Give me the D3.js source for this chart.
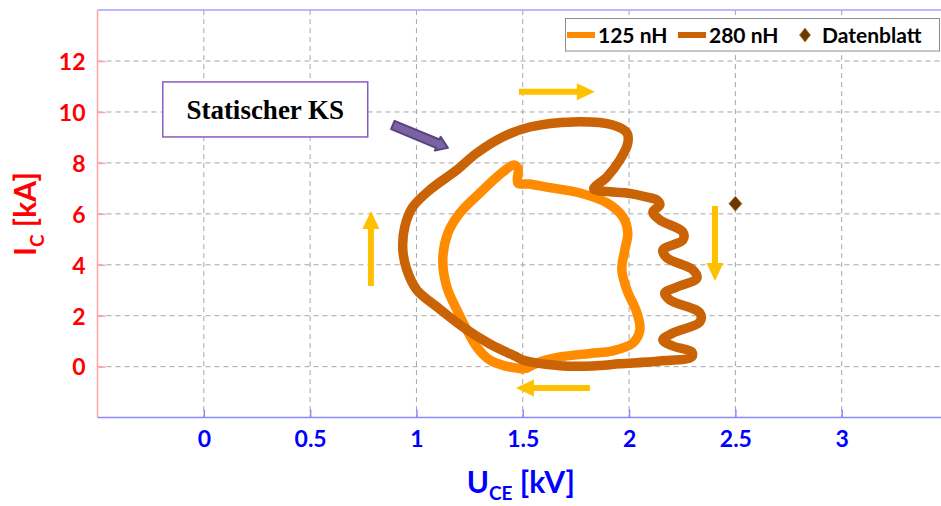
<!DOCTYPE html>
<html>
<head>
<meta charset="utf-8">
<script src="https://cdn.jsdelivr.net/npm/d3@7"></script>
<style>
  html, body { margin: 0; padding: 0; background: #fff; }
  svg { display: block; }
</style>
</head>
<body>
<svg id="chart" width="941" height="506"></svg>
<script>
// Axis ticks
const U_TICKS = [0, 0.5, 1, 1.5, 2, 2.5, 3];
const I_TICKS = [0, 2, 4, 6, 8, 10, 12];

// Series names
const SERIES = ["125 nH", "280 nH"];
const DATASHEET_LABEL = "Datenblatt";

// Short-circuit trajectory, 125 nH stray inductance: [U_CE in kV, I_C in kA]
const L125 = [
  [1.500, -0.09], [1.416, 0.03], [1.345, 0.26], [1.284, 0.77], [1.237, 1.44],
  [1.190, 2.23], [1.143, 3.13], [1.124, 4.19], [1.148, 5.25], [1.204, 6.03],
  [1.298, 6.82], [1.406, 7.64], [1.458, 7.92], [1.478, 7.78], [1.477, 7.21],
  [1.530, 7.17], [1.613, 7.05], [1.769, 6.82], [1.896, 6.43], [1.971, 5.88],
  [1.994, 5.25], [1.980, 4.58], [1.966, 3.80], [1.990, 3.01], [2.037, 2.11],
  [2.051, 1.44], [2.018, 0.93], [1.924, 0.62], [1.816, 0.52], [1.675, 0.38],
  [1.580, 0.18], [1.520, -0.06]
];

// Short-circuit trajectory, 280 nH stray inductance: [U_CE in kV, I_C in kA]
const L280 = [
  [1.830, 0.03], [1.675, 0.04], [1.500, 0.26], [1.472, 0.38], [1.345, 0.89],
  [1.218, 1.56], [1.096, 2.35], [1.002, 3.01], [0.955, 3.80], [0.936, 4.58],
  [0.945, 5.49], [0.983, 6.27], [1.063, 6.94], [1.190, 7.72], [1.284, 8.39],
  [1.406, 9.02], [1.533, 9.41], [1.736, 9.61], [1.924, 9.49], [1.990, 9.18],
  [1.994, 8.78], [1.957, 8.12], [1.896, 7.45], [1.834, 6.98], [1.924, 6.86],
  [1.990, 6.82], [2.084, 6.66], [2.131, 6.54], [2.145, 6.35], [2.112, 6.07],
  [2.145, 5.76], [2.253, 5.29], [2.253, 4.97], [2.159, 4.58], [2.178, 4.27],
  [2.300, 3.80], [2.319, 3.48], [2.225, 3.13], [2.168, 2.89], [2.192, 2.62],
  [2.333, 2.11], [2.333, 1.76], [2.206, 1.32], [2.159, 1.05], [2.206, 0.81],
  [2.295, 0.58], [2.295, 0.38], [2.145, 0.22], [1.957, 0.11]
];

// Datasheet short-circuit point
const DATASHEET = [[2.5, 6.4]];

const COLORS = { l125: "#FF8C00", l280: "#C96305", sheet: "#6B3800", flow: "#FFC000" };

const svg = d3.select("#chart");
svg.append("rect").attr("width", 941).attr("height", 506).attr("fill", "#fff");

const x = d3.scaleLinear().domain([-0.5, 3.5]).range([97.5, 948]);
const y = d3.scaleLinear().domain([-2, 14]).range([417.6, 10.1]);

const plotL = x(-0.5), plotR = x(3.5), plotT = y(14), plotB = y(-2);

// Dashed grid
const grid = svg.append("g");
grid.selectAll("line.h").data(I_TICKS).join("line")
  .attr("x1", plotL).attr("x2", plotR)
  .attr("y1", d => y(d)).attr("y2", d => y(d))
  .attr("stroke", "#a6a6a6").attr("stroke-width", 1).attr("stroke-dasharray", "5,4");
grid.selectAll("line.v").data(U_TICKS).join("line")
  .attr("y1", plotT).attr("y2", plotB)
  .attr("x1", d => x(d)).attr("x2", d => x(d))
  .attr("stroke", "#a6a6a6").attr("stroke-width", 1).attr("stroke-dasharray", "5,4");

// Frame lines
svg.append("line").attr("x1", plotL).attr("x2", plotR).attr("y1", plotT).attr("y2", plotT)
  .attr("stroke", "#a3a3ff").attr("stroke-width", 1.5);
svg.append("line").attr("x1", plotL).attr("x2", plotR).attr("y1", plotB).attr("y2", plotB)
  .attr("stroke", "#8a8aff").attr("stroke-width", 1.5);
svg.append("line").attr("x1", plotL).attr("x2", plotL).attr("y1", plotT).attr("y2", plotB)
  .attr("stroke", "#ffa3a3").attr("stroke-width", 1.5);

// Y axis (red)
const yAxis = d3.axisLeft(y).tickValues(I_TICKS).tickSize(-8).tickPadding(12);
const gy = svg.append("g").attr("transform", `translate(${plotL},0)`).call(yAxis);
gy.select(".domain").remove();
gy.selectAll(".tick line").attr("stroke", "#ffa3a3").attr("stroke-width", 1.5);
gy.selectAll(".tick text")
  .attr("fill", "#ff0000").attr("font-family", "Lato, 'Open Sans', sans-serif")
  .attr("font-weight", "bold").attr("font-size", 23).attr("dy", "0.36em");

// X axis (blue)
const xAxis = d3.axisBottom(x).tickValues(U_TICKS).tickSize(-8).tickPadding(13)
  .tickFormat(d => String(d));
const gx = svg.append("g").attr("transform", `translate(0,${plotB})`).call(xAxis);
gx.select(".domain").remove();
gx.selectAll(".tick line").attr("stroke", "#8a8aff").attr("stroke-width", 1.5);
gx.selectAll(".tick text")
  .attr("fill", "#0000ff").attr("font-family", "Lato, 'Open Sans', sans-serif")
  .attr("font-weight", "bold").attr("font-size", 23).attr("dy", "0.71em");

// Axis titles
const xt = svg.append("text").attr("x", (plotL + plotR) / 2 - 2).attr("y", 493)
  .attr("text-anchor", "middle").attr("fill", "#0000ff")
  .attr("font-family", "Lato, 'Open Sans', sans-serif").attr("font-size", 30).attr("font-weight", "bold");
xt.append("tspan").text("U");
xt.append("tspan").attr("font-size", 19).attr("dy", 7).text("CE");
xt.append("tspan").attr("dy", -7).text(" [kV]");

const yt = svg.append("text").attr("transform", "translate(36,214) rotate(-90)")
  .attr("text-anchor", "middle").attr("fill", "#ff0000")
  .attr("font-family", "Lato, 'Open Sans', sans-serif").attr("font-size", 30).attr("font-weight", "bold");
yt.append("tspan").text("I");
yt.append("tspan").attr("font-size", 19).attr("dy", 8).text("C");
yt.append("tspan").attr("dy", -8).text(" [kA]");

// Trajectories
const line = d3.line().x(d => x(d[0])).y(d => y(d[1])).curve(d3.curveCatmullRom.alpha(0.5));
const lineClosed = d3.line().x(d => x(d[0])).y(d => y(d[1])).curve(d3.curveCatmullRomClosed.alpha(0.5));

svg.append("path").datum(L125).attr("d", line)
  .attr("fill", "none").attr("stroke", COLORS.l125).attr("stroke-width", 9.5)
  .attr("stroke-linejoin", "round").attr("stroke-linecap", "round");
svg.append("path").datum(L280).attr("d", lineClosed)
  .attr("fill", "none").attr("stroke", COLORS.l280).attr("stroke-width", 9.5)
  .attr("stroke-linejoin", "round").attr("stroke-linecap", "round");

// Datasheet point
const diamond = (cx, cy, w, h) => `M${cx},${cy - h / 2}L${cx + w / 2},${cy}L${cx},${cy + h / 2}L${cx - w / 2},${cy}Z`;
svg.selectAll("path.sheet").data(DATASHEET).join("path")
  .attr("d", d => diamond(x(d[0]), y(d[1]), 13, 15))
  .attr("fill", COLORS.sheet).attr("stroke", "#b87a3a").attr("stroke-width", 0.8);

// Flow direction arrows (data coordinates of tail and tip)
const FLOW = [
  [[1.482, 10.79], [1.839, 10.79]],
  [[0.786, 3.17], [0.786, 6.11]],
  [[2.404, 6.31], [2.404, 3.36]],
  [[1.816, -0.84], [1.468, -0.84]]
];
function arrowPath(p0, p1, shaft, headW, headL) {
  const [x0, y0] = p0, [x1, y1] = p1;
  const dx = x1 - x0, dy = y1 - y0, len = Math.hypot(dx, dy);
  const ux = dx / len, uy = dy / len, nx = -uy, ny = ux;
  const bx = x1 - ux * headL, by = y1 - uy * headL;
  const pts = [
    [x0 + nx * shaft / 2, y0 + ny * shaft / 2],
    [bx + nx * shaft / 2, by + ny * shaft / 2],
    [bx + nx * headW / 2, by + ny * headW / 2],
    [x1, y1],
    [bx - nx * headW / 2, by - ny * headW / 2],
    [bx - nx * shaft / 2, by - ny * shaft / 2],
    [x0 - nx * shaft / 2, y0 - ny * shaft / 2]
  ];
  return "M" + pts.map(p => p.join(",")).join("L") + "Z";
}
svg.selectAll("path.flow").data(FLOW).join("path")
  .attr("d", d => arrowPath([x(d[0][0]), y(d[0][1])], [x(d[1][0]), y(d[1][1])], 6, 17, 18))
  .attr("fill", COLORS.flow);

// Annotation: static short circuit
const NOTE = { text: "Statischer KS", box: [[-0.193, 11.18], [0.771, 9.02]], arrow: [[0.889, 9.49], [1.148, 8.59]] };
const bx0 = x(NOTE.box[0][0]), by0 = y(NOTE.box[0][1]), bx1 = x(NOTE.box[1][0]), by1 = y(NOTE.box[1][1]);
svg.append("rect").attr("x", bx0).attr("y", by0).attr("width", bx1 - bx0).attr("height", by1 - by0)
  .attr("fill", "#fff").attr("stroke", "#8a5cc2").attr("stroke-width", 1.5);
svg.append("text").attr("x", (bx0 + bx1) / 2).attr("y", (by0 + by1) / 2).attr("dy", "0.35em")
  .attr("text-anchor", "middle").attr("font-family", "'Liberation Serif', 'DejaVu Serif', serif")
  .attr("font-weight", "bold").attr("font-size", 27).attr("fill", "#000").text(NOTE.text);
const a0 = [x(NOTE.arrow[0][0]), y(NOTE.arrow[0][1])], a1 = [x(NOTE.arrow[1][0]), y(NOTE.arrow[1][1])];
svg.append("path").attr("d", arrowPath(a0, a1, 9, 15, 11))
  .attr("fill", "#7b62a3").attr("stroke", "#5a447f").attr("stroke-width", 2).attr("stroke-linejoin", "round");

// Legend
const lg = svg.append("g");
lg.append("rect").attr("x", 565.5).attr("y", 18.5).attr("width", 374).attr("height", 32.5)
  .attr("fill", "#fff").attr("stroke", "#8c8c8c").attr("stroke-width", 1);
const legendFont = "Lato, 'Open Sans', sans-serif";
const LEG = [
  { kind: "line", color: COLORS.l125, x: 567, label: SERIES[0], tx: 598 },
  { kind: "line", color: COLORS.l280, x: 678, label: SERIES[1], tx: 709 },
  { kind: "dot", color: COLORS.sheet, x: 805, label: DATASHEET_LABEL, tx: 822 }
];
LEG.forEach(e => {
  if (e.kind === "line") {
    lg.append("line").attr("x1", e.x).attr("x2", e.x + 28).attr("y1", 35).attr("y2", 35)
      .attr("stroke", e.color).attr("stroke-width", 6);
  } else {
    lg.append("path").attr("d", diamond(e.x, 35, 11, 14)).attr("fill", e.color)
      .attr("stroke", "#b87a3a").attr("stroke-width", 0.8);
  }
  lg.append("text").attr("x", e.tx).attr("y", 35).attr("dy", "0.36em")
    .attr("font-family", legendFont).attr("font-weight", "bold").attr("font-size", 21)
    .attr("fill", "#000").text(e.label);
});
</script>
</body>
</html>
